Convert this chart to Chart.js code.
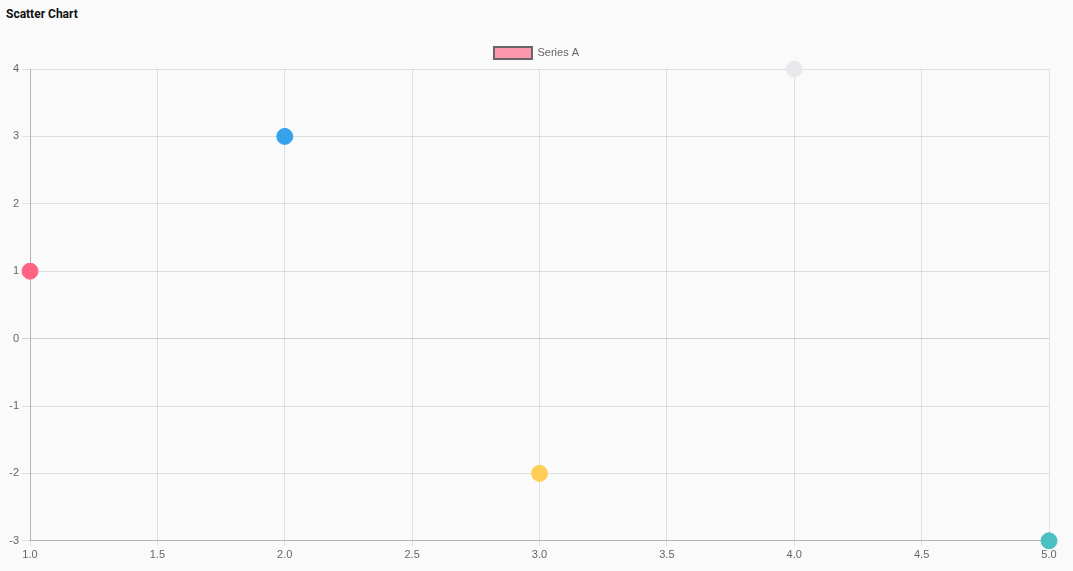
<!DOCTYPE html>
<html>
<head>
<meta charset="utf-8">
<script src="https://cdn.jsdelivr.net/npm/chart.js@4"></script>
<style>
  html, body { margin: 0; padding: 0; background: #fafafa; }
  h3 { margin: 0; position: absolute; left: 6px; top: 7px; font: bold 12px Roboto, sans-serif; color: #111; }
  #wrap { position: absolute; left: 0; top: 38px; width: 1073px; height: 533px; }
</style>
</head>
<body>
<h3>Scatter Chart</h3>
<div id="wrap"><canvas id="chart"></canvas></div>
<script>
// values
const xValues = [1, 2, 3, 4, 5];
const yValues = [1, 3, -2, 4, -3];
const pointColors = ["#FF6384", "#36A2EB", "#FFCE56", "#E7E9ED", "#4BC0C0"];
const seriesName = "Series A";

(function () {
  const gridColor = (ctx) => (ctx.tick && ctx.tick.value === 0 ? "rgba(0,0,0,0.17)" : "rgba(0,0,0,0.1)");
  const font = { family: "'Liberation Sans', Arial, sans-serif", size: 11 };

  new Chart(document.getElementById("chart"), {
    type: "scatter",
    data: {
      datasets: [{
        label: seriesName,
        data: xValues.map((x, i) => ({ x, y: yValues[i] })),
        backgroundColor: pointColors,
        borderColor: pointColors,
        borderWidth: 1,
        pointRadius: 8,
        pointHoverRadius: 8,
        clip: false,
      }],
    },
    options: {
      responsive: true,
      maintainAspectRatio: false,
      animation: false,
      layout: { padding: { bottom: 6, top: -1 } },
      plugins: {
        tooltip: { enabled: false },
        legend: {
          labels: {
            color: "#666",
            font,
            boxWidth: 38,
            boxHeight: 12,
            generateLabels: () => [{
              text: seriesName,
              fillStyle: "rgba(255,99,132,0.65)",
              strokeStyle: "#666",
              lineWidth: 2,
              fontColor: "#666",
              datasetIndex: 0,
            }],
          },
        },
      },
      scales: {
        x: {
          type: "linear",
          min: 1,
          max: 5,
          afterFit: (s) => { s.paddingRight = 24; },
          ticks: { stepSize: 0.5, color: "#666", font, padding: 3, callback: (v) => v.toFixed(1) },
          grid: { color: "rgba(0,0,0,0.1)", tickLength: 5 },
          border: { color: "rgba(0,0,0,0.2)" },
        },
        y: {
          min: -3,
          max: 4,
          afterFit: (s) => { s.width = 30; },
          ticks: { stepSize: 1, color: "#666", font },
          grid: { color: gridColor, tickLength: 8 },
          border: { color: "rgba(0,0,0,0.2)" },
        },
      },
    },
  });
})();
</script>
</body>
</html>
